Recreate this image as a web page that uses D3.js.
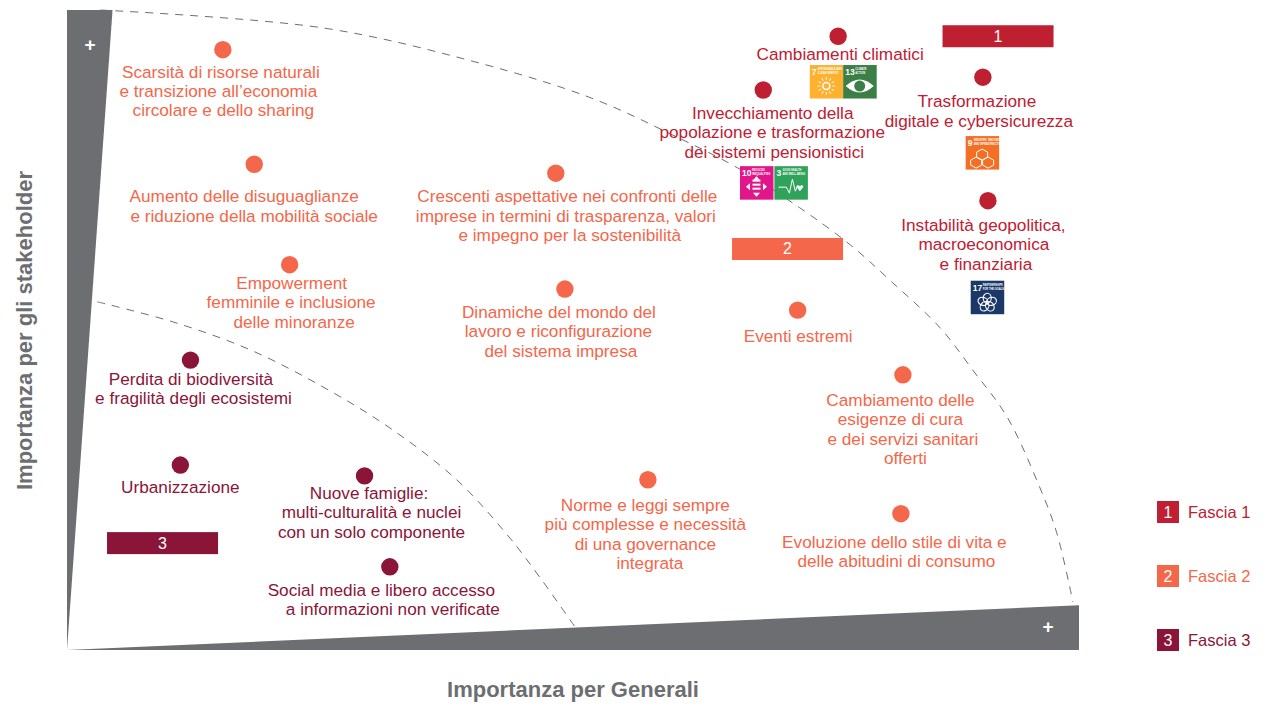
<!DOCTYPE html>
<html>
<head>
<meta charset="utf-8">
<script src="https://cdn.jsdelivr.net/npm/d3@7"></script>
<style>
html, body { margin: 0; padding: 0; background: #fff; }
svg { display: block; }
text { font-family: "Liberation Sans", Arial, sans-serif; }
</style>
</head>
<body>
<div id="chart"></div>
<script>
// importance values, 0-100 on both axes
var topicNames = [
    ["Scarsità di risorse naturali", "e transizione all’economia", "circolare e dello sharing"],
    ["Aumento delle disuguaglianze", "e riduzione della mobilità sociale"],
    ["Empowerment", "femminile e inclusione", "delle minoranze"],
    ["Crescenti aspettative nei confronti delle", "imprese in termini di trasparenza, valori", "e impegno per la sostenibilità"],
    ["Dinamiche del mondo del", "lavoro e riconfigurazione", "del sistema impresa"],
    ["Eventi estremi"],
    ["Cambiamento delle", "esigenze di cura", "e dei servizi sanitari", "offerti"],
    ["Norme e leggi sempre", "più complesse e necessità", "di una governance", "integrata"],
    ["Evoluzione dello stile di vita e", "delle abitudini di consumo"],
    ["Cambiamenti climatici"],
    ["Invecchiamento della", "popolazione e trasformazione", "dei sistemi pensionistici"],
    ["Trasformazione", "digitale e cybersicurezza"],
    ["Instabilità geopolitica,", "macroeconomica", "e finanziaria"],
    ["Perdita di biodiversità", "e fragilità degli ecosistemi"],
    ["Urbanizzazione"],
    ["Nuove famiglie:", "multi-culturalità e nuclei", "con un solo componente"],
    ["Social media e libero accesso", "a informazioni non verificate"]
];
var generaliValues = [15.4, 18.5, 22.0, 48.3, 49.2, 72.2, 82.6, 57.4, 82.4, 76.2, 68.8, 90.5, 91.0, 12.2, 11.2, 29.4, 31.9];
var stakeholderValues = [93.8, 75.9, 60.2, 74.5, 56.4, 53.1, 43.0, 26.6, 21.3, 95.9, 87.5, 89.5, 70.2, 45.3, 28.9, 27.2, 13.0];
var topicBands = [2, 2, 2, 2, 2, 2, 2, 2, 2, 1, 1, 1, 1, 3, 3, 3, 3];

var bandLabels = ["Fascia 1", "Fascia 2", "Fascia 3"];
var bandColors = ["#be2032", "#f4674a", "#8a1538"];

// dashed band borders
var outerBorderX = [3.3, 25.3, 40.3, 51.8, 60.2, 66.3, 72.4, 77.4, 81.3, 86.3, 89.5, 92.9, 96.1, 97.8, 99.4];
var outerBorderY = [100, 97.2, 91.9, 86.25, 80.2, 75.3, 69.1, 63.3, 57.8, 50.3, 43.75, 36.4, 25.5, 18.3, 7.5];
var innerBorderX = [3, 10.5, 18.1, 25.3, 31.9, 38.5, 43.5, 46.7, 50.2];
var innerBorderY = [54.4, 51.25, 46.9, 41.1, 34.7, 26.6, 18, 11.4, 3.6];

var bandBadgeX = [92.0, 71.2, 9.44];
var bandBadgeY = [95.9, 62.66, 16.7];

// SDG goal icons
var sdgNumbers = [7, 13, 10, 3, 9, 17];
var sdgTitles = [["AFFORDABLE AND", "CLEAN ENERGY"], ["CLIMATE", "ACTION"], ["REDUCED", "INEQUALITIES"], ["GOOD HEALTH", "AND WELL-BEING"], ["INDUSTRY, INNOVATION", "AND INFRASTRUCTURE"], ["PARTNERSHIPS", "FOR THE GOALS"]];
var sdgColors = ["#fdb12f", "#3b7f46", "#e0168a", "#2fa35a", "#f36f24", "#1c3868"];
var sdgX = [73.4, 76.7, 66.5, 69.9, 88.8, 89.3];
var sdgY = [91.4, 91.4, 75.6, 75.6, 80.3, 57.7];

// label placement relative to the dot, px (lines are not quite centred in the original)
var labelLineDx = [
    [-2, -4.5, 0.5], [-10, 0], [2, 1.5, 4.5], [11.5, 10, 14], [-6, -6.5, -4], [0.5],
    [-2.5, -2.5, 0, 2.5], [-2.5, -2.5, -2.5, 2], [-6.5, -4.5], [2], [9.5, 9, 11],
    [-6, -4], [-4.5, -4, -2], [0.5, 3], [0], [4.5, 7, 7], [-8.5, 3]
];
var labelDy = [28, 38, 24, 29, 29, 32, 31, 31, 34, 24, 29, 30, 30, 25, 28, 23, 29];

var width = 1271;
var height = 709;
var labelGap = 19.4;
var labelSize = 17.2;

var x = d3.scaleLinear().domain([0, 100]).range([67, 1079]);
var y = d3.scaleLinear().domain([0, 100]).range([650, 10]);

var svg = d3.select("#chart").append("svg")
    .attr("width", width)
    .attr("height", height);

// grey wedges acting as axes
var wedge = d3.line().x(function (d) { return x(d[0]); }).y(function (d) { return y(d[1]); });
svg.append("path").attr("d", wedge([[0, 0], [0, 100], [4.5, 100]]) + "Z").attr("fill", "#6d6e71");
svg.append("path").attr("d", wedge([[0, 0], [100, 7], [100, 0]]) + "Z").attr("fill", "#6d6e71");

svg.append("text").attr("x", 90).attr("y", 50.5).attr("text-anchor", "middle")
    .attr("fill", "#fff").attr("font-size", 19).attr("font-weight", "bold").text("+");
svg.append("text").attr("x", 1048).attr("y", 632.5).attr("text-anchor", "middle")
    .attr("fill", "#fff").attr("font-size", 19).attr("font-weight", "bold").text("+");

// dashed borders
var border = d3.line().curve(d3.curveCatmullRom)
    .x(function (d) { return x(d[0]); })
    .y(function (d) { return y(d[1]); });

[d3.zip(outerBorderX, outerBorderY), d3.zip(innerBorderX, innerBorderY)].forEach(function (pts) {
    svg.append("path")
        .attr("d", border(pts))
        .attr("fill", "none")
        .attr("stroke", "#6d6e71")
        .attr("stroke-width", 1)
        .attr("stroke-dasharray", "8 7");
});

// band badges in the plot
svg.selectAll(".badge").data(bandBadgeX).enter().append("rect")
    .attr("class", "badge")
    .attr("x", function (d) { return x(d) - 55.5; })
    .attr("y", function (d, i) { return y(bandBadgeY[i]) - 11; })
    .attr("width", 111)
    .attr("height", 22)
    .attr("fill", function (d, i) { return bandColors[i]; });

svg.selectAll(".badgeText").data(bandBadgeX).enter().append("text")
    .attr("class", "badgeText")
    .attr("x", function (d) { return x(d); })
    .attr("y", function (d, i) { return y(bandBadgeY[i]) + 5.5; })
    .attr("text-anchor", "middle")
    .attr("fill", "#fff")
    .attr("font-size", 16)
    .text(function (d, i) { return i + 1; });

// topics
var topics = svg.selectAll(".topic").data(topicNames).enter().append("g").attr("class", "topic");

topics.append("circle")
    .attr("cx", function (d, i) { return x(generaliValues[i]); })
    .attr("cy", function (d, i) { return y(stakeholderValues[i]); })
    .attr("r", 8.7)
    .attr("fill", function (d, i) { return bandColors[topicBands[i] - 1]; });

topics.each(function (lines, i) {
    d3.select(this).selectAll("text").data(lines).enter().append("text")
        .attr("x", function (d, j) { return x(generaliValues[i]) + labelLineDx[i][j]; })
        .attr("y", function (d, j) { return y(stakeholderValues[i]) + labelDy[i] + j * labelGap; })
        .attr("text-anchor", "middle")
        .attr("font-size", labelSize)
        .attr("fill", bandColors[topicBands[i] - 1])
        .text(function (d) { return d; });
});

// SDG icons
function drawGlyph(g, goal) {
    var c = g.append("g").attr("fill", "#fff").attr("stroke", "#fff");
    if (goal === 7) {
        c.append("circle").attr("cx", 16.5).attr("cy", 21).attr("r", 3.5).attr("fill", "none").attr("stroke-width", 1.5);
        d3.range(0, 360, 30).forEach(function (a) {
            c.append("line").attr("x1", 16.5).attr("y1", 15).attr("x2", 16.5).attr("y2", 12)
                .attr("stroke-width", 0.9).attr("transform", "rotate(" + a + " 16.5 21)");
        });
    } else if (goal === 13) {
        c.append("path").attr("d", "M2.5 21 Q16.5 8 30.5 21 Q16.5 34 2.5 21Z").attr("stroke", "none");
        c.append("circle").attr("cx", 16.5).attr("cy", 21).attr("r", 5.5).attr("fill", "#3b7f46").attr("stroke", "none");
    } else if (goal === 10) {
        c.attr("stroke", "none");
        [12.5, 16.5, 20.5].forEach(function (yy) {
            c.append("rect").attr("x", 12.5).attr("y", yy + 1).attr("width", 8).attr("height", 2);
        });
        c.append("path").attr("d", "M16.5 10 L20 14 L13 14Z M16.5 30.5 L20 26.5 L13 26.5Z M6 20.5 L10 17 L10 24Z M27 20.5 L23 17 L23 24Z");
    } else if (goal === 3) {
        c.append("path").attr("d", "M4 21 H12 L15 27 L18 13 L21 25 L23 20")
            .attr("fill", "none").attr("stroke-width", 1);
        c.append("path").attr("d", "M25.5 25 L22 20.5 Q23 18 25.5 20 Q28 18 29 20.5Z").attr("stroke", "none");
    } else if (goal === 9) {
        c.attr("fill", "none").attr("stroke-width", 1);
        c.append("path").attr("d", "M16.5 13 L22 16 V21 L16.5 24 L11 21 V16Z");
        c.append("path").attr("d", "M10.5 21 L16 24 V29 L10.5 32 L5 29 V24Z");
        c.append("path").attr("d", "M22.5 21 L28 24 V29 L22.5 32 L17 29 V24Z");
    } else {
        c.attr("fill", "none").attr("stroke-width", 1.1);
        d3.range(0, 360, 72).forEach(function (a) {
            c.append("ellipse").attr("cx", 16.5).attr("cy", 17.5).attr("rx", 4).attr("ry", 5)
                .attr("transform", "rotate(" + a + " 16.5 22)");
        });
    }
}

var icons = svg.selectAll(".sdg").data(sdgNumbers).enter().append("g")
    .attr("class", "sdg")
    .attr("transform", function (d, i) { return "translate(" + x(sdgX[i]) + "," + y(sdgY[i]) + ")"; });

icons.append("rect").attr("width", 33.5).attr("height", 33.5)
    .attr("fill", function (d, i) { return sdgColors[i]; });
icons.append("text").attr("x", 2).attr("y", 10)
    .attr("fill", "#fff").attr("font-size", 8.5).attr("font-weight", "bold")
    .text(function (d) { return d; });
icons.each(function (d, i) {
    var g = d3.select(this);
    var tx = d > 9 ? 12 : 8;
    sdgTitles[i].forEach(function (t, j) {
        g.append("text").attr("x", tx).attr("y", 5 + j * 4)
            .attr("fill", "#fff").attr("font-size", 2.6).attr("font-weight", "bold").text(t);
    });
    drawGlyph(g, d);
});

// axis titles
svg.append("text").attr("x", 573).attr("y", 697).attr("text-anchor", "middle")
    .attr("fill", "#6d6e71").attr("font-size", 22).attr("font-weight", "bold")
    .text("Importanza per Generali");
svg.append("text")
    .attr("transform", "translate(32,330.5) rotate(-90)")
    .attr("text-anchor", "middle")
    .attr("fill", "#6d6e71").attr("font-size", 22).attr("font-weight", "bold")
    .text("Importanza per gli stakeholder");

// legend
var legend = svg.selectAll(".legend").data(bandLabels).enter().append("g")
    .attr("class", "legend")
    .attr("transform", function (d, i) { return "translate(1157," + (501 + i * 64) + ")"; });
legend.append("rect").attr("width", 22).attr("height", 22)
    .attr("fill", function (d, i) { return bandColors[i]; });
legend.append("text").attr("x", 11).attr("y", 16.5).attr("text-anchor", "middle")
    .attr("fill", "#fff").attr("font-size", 16)
    .text(function (d, i) { return i + 1; });
legend.append("text").attr("x", 31).attr("y", 17).attr("font-size", 16.5)
    .attr("fill", function (d, i) { return bandColors[i]; })
    .text(function (d) { return d; });
</script>
</body>
</html>
